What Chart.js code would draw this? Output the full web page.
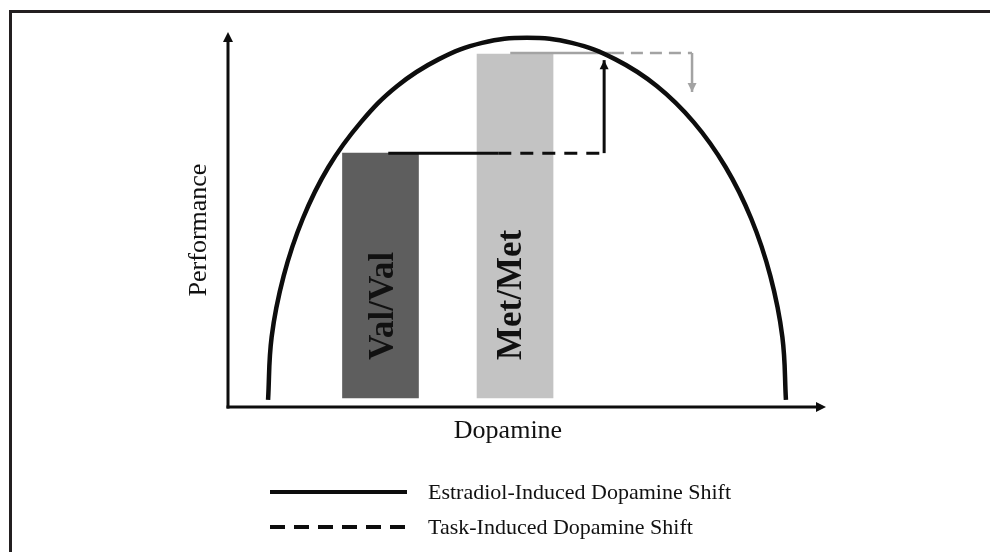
<!DOCTYPE html>
<html><head><meta charset="utf-8">
<script src="https://cdn.jsdelivr.net/npm/chart.js@4.4.1/dist/chart.umd.min.js"></script>
<style>html,body{margin:0;padding:0;background:#fff;overflow:hidden}canvas{display:block}</style>
</head><body>
<canvas id="c" width="990" height="552"></canvas>
<script>
// Inverted-U curve (Dopamine 0-100 vs Performance 0-100)
const curveX = [6.7, 7.3, 9.3, 12.5, 16.8, 22.2, 28.3, 35.2, 42.5, 50.0, 57.5, 64.8, 71.7, 77.9, 83.2, 87.5, 90.7, 92.7, 93.3];
const curveY = [1.9, 18.7, 34.9, 50.2, 64.0, 75.9, 85.6, 92.7, 97.1, 98.5, 97.1, 92.7, 85.6, 75.9, 64.0, 50.2, 34.9, 18.7, 1.9];
// Genotype bars
const genotypes = ['Val/Val', 'Met/Met'];
const barX = [25.5, 48.0];
const barTop = [67.7, 94.1];
const barBase = [2.4, 2.4];
// Val/Val shift path (black)
const valSolidX = [26.8, 45.2], valSolidY = [67.7, 67.7];
const valDashX = [45.2, 62.9], valDashY = [67.7, 67.7];
const valRiseX = [62.9, 62.9], valRiseY = [67.7, 92.5];
// Met/Met shift path (gray)
const metSolidX = [47.2, 64.2], metSolidY = [94.4, 94.4];
const metDashX = [64.2, 77.6], metDashY = [94.4, 94.4];
const metDropX = [77.6, 77.6], metDropY = [94.4, 84.0];
// Text
const xTitle = 'Dopamine';
const yTitle = 'Performance';
const legendLabels = ['Estradiol-Induced Dopamine Shift', 'Task-Induced Dopamine Shift'];

const pts = (xs, ys) => xs.map((x, i) => ({x, y: ys[i]}));
const lineDs = (xs, ys, color, width, dash, order) => ({
  type: 'line', data: pts(xs, ys), borderColor: color, borderWidth: width,
  borderDash: dash, pointRadius: 0, fill: false, tension: 0, order, borderCapStyle: 'butt'
});

const BLACK = '#0d0d0d', GRAY = '#a3a3a3';
const SERIF = '"Liberation Serif", "Times New Roman", serif';

const deco = {
  id: 'deco',
  beforeDraw(chart) {
    const c = chart.ctx;
    c.save();
    c.fillStyle = '#ffffff';
    c.fillRect(0, 0, chart.width, chart.height);
    c.fillStyle = '#231f20';
    c.fillRect(9, 10, chart.width - 9, 3);
    c.fillRect(9, 10, 3, chart.height - 10);
    c.restore();
  },
  afterDatasetsDraw(chart) {
    const c = chart.ctx, xs = chart.scales.x, ys = chart.scales.y;
    const px = v => xs.getPixelForValue(v), py = v => ys.getPixelForValue(v);
    c.save();
    // axes
    c.strokeStyle = BLACK; c.fillStyle = BLACK; c.lineWidth = 3;
    const x0 = px(0), y0 = py(0);
    c.beginPath(); c.moveTo(x0, y0 + 1.5); c.lineTo(x0, py(100) + 6); c.stroke();
    c.beginPath(); c.moveTo(x0 - 1.5, y0); c.lineTo(px(100) - 6, y0); c.stroke();
    const tri = (x, y, dir, w, h, col) => {
      c.fillStyle = col; c.beginPath();
      if (dir === 'up') { c.moveTo(x, y); c.lineTo(x - w / 2, y + h); c.lineTo(x + w / 2, y + h); }
      else if (dir === 'down') { c.moveTo(x, y); c.lineTo(x - w / 2, y - h); c.lineTo(x + w / 2, y - h); }
      else { c.moveTo(x, y); c.lineTo(x - h, y - w / 2); c.lineTo(x - h, y + w / 2); }
      c.closePath(); c.fill();
    };
    tri(x0, py(100), 'up', 10, 10, BLACK);
    tri(px(100), y0, 'right', 10, 10, BLACK);
    // shift arrows
    tri(px(valRiseX[1]), py(valRiseY[1]), 'up', 9, 9, BLACK);
    tri(px(metDropX[1]), py(metDropY[1]), 'down', 9, 9, GRAY);
    // bar labels
    c.fillStyle = '#111';
    c.font = 'bold 35px ' + SERIF;
    c.textAlign = 'left'; c.textBaseline = 'alphabetic';
    const offs = [12.5, 6];
    genotypes.forEach((g, i) => {
      c.save();
      c.translate(px(barX[i]) + offs[i], py(barBase[i]) - 38);
      c.rotate(-Math.PI / 2);
      c.fillText(g, 0, 0);
      c.restore();
    });
    // axis titles
    c.font = '26px ' + SERIF;
    c.fillStyle = '#111';
    c.textAlign = 'center';
    c.fillText(xTitle, 508, 438);
    c.save(); c.translate(206, 230); c.rotate(-Math.PI / 2); c.fillText(yTitle, 0, 0); c.restore();
    // legend
    c.strokeStyle = BLACK; c.lineWidth = 4;
    c.beginPath(); c.moveTo(270, 492); c.lineTo(407, 492); c.stroke();
    c.setLineDash([15, 9]);
    c.beginPath(); c.moveTo(270, 527); c.lineTo(406, 527); c.stroke();
    c.setLineDash([]);
    c.font = '22px ' + SERIF; c.textAlign = 'left'; c.fillStyle = '#111';
    c.fillText(legendLabels[0], 428, 499);
    c.fillText(legendLabels[1], 428, 534);
    c.restore();
  }
};

new Chart(document.getElementById('c'), {
  type: 'bar',
  data: {
    datasets: [
      { type: 'line', data: pts(curveX, curveY), borderColor: BLACK, borderWidth: 4.5,
        pointRadius: 0, fill: false, tension: 0.4, order: 0, clip: false },
      lineDs(valSolidX, valSolidY, BLACK, 3, [], 1),
      lineDs(valDashX, valDashY, BLACK, 3, [13, 9], 1),
      lineDs(valRiseX, valRiseY, BLACK, 3, [], 1),
      lineDs(metSolidX, metSolidY, GRAY, 2.5, [], 1),
      lineDs(metDashX, metDashY, GRAY, 2.5, [12, 7], 1),
      lineDs(metDropX, metDropY, GRAY, 2.5, [], 1),
      { type: 'bar', label: 'genotype',
        data: genotypes.map((g, i) => ({x: barX[i], y: [barBase[i], barTop[i]]})),
        backgroundColor: ['#5e5e5e', '#c3c3c3'], borderWidth: 0,
        barThickness: 76, grouped: false, order: 5 }
    ]
  },
  options: {
    responsive: false, animation: false,
    layout: { padding: { left: 228, right: 164, top: 32, bottom: 145 } },
    plugins: { legend: { display: false }, tooltip: { enabled: false } },
    scales: {
      x: { type: 'linear', min: 0, max: 100, display: false, offset: false },
      y: { type: 'linear', min: 0, max: 100, display: false }
    }
  },
  plugins: [deco]
});
</script>
</body></html>
